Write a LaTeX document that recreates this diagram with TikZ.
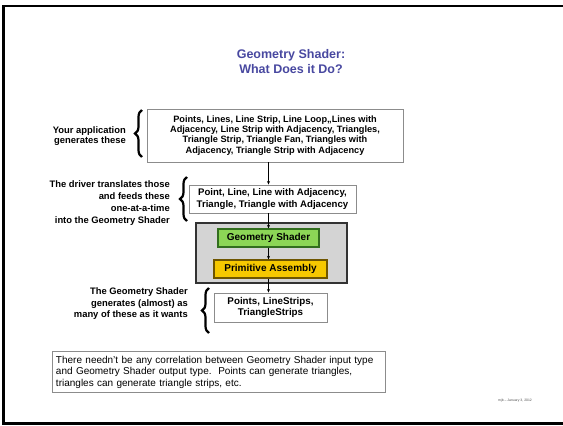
\documentclass[tikz,border=0pt]{standalone}
\usepackage{fontspec}
\setmainfont{Liberation Sans}
\usepackage{xcolor}
\usetikzlibrary{arrows.meta, positioning, calc, decorations.pathreplacing}
\definecolor{titleblue}{RGB}{72,72,160}
\definecolor{gsgreen}{RGB}{140,214,86}
\definecolor{gsborder}{RGB}{50,110,30}
\definecolor{pagold}{RGB}{246,200,0}
\definecolor{paborder}{RGB}{110,85,0}
\tikzset{
  prim/.style={rectangle, draw=black!45, fill=white, line width=0.9pt,
               align=center, font=\fontsize{9.2}{10.2}\selectfont\bfseries,
               inner sep=1pt},
  lbl/.style={align=right, anchor=east, inner sep=0pt,
              font=\fontsize{9.4}{11.5}\selectfont\bfseries},
  stage/.style={rectangle, line width=1.2pt, align=center, inner sep=0pt,
                font=\fontsize{10}{10}\selectfont\bfseries},
  arrow/.style={-{Stealth[length=3.5pt, width=3pt]}, line width=0.7pt},
  cbrace/.style={decorate, decoration={brace, amplitude=7pt},
                 line width=2.2pt},
}
\begin{document}
\begin{tikzpicture}[x=1pt, y=-1pt]
  \useasboundingbox (0,0) rectangle (563,426);
  % Frame
  \draw[line width=2.6pt] (3.5,6) rectangle (566,423.5);

  % Title
  \node[font=\fontsize{12.5}{15}\selectfont\bfseries, text=titleblue,
        align=center] (title) at (291,61.5)
       {Geometry Shader:\\What Does it Do?};

  % Primitive boxes
  \node[prim, minimum width=256pt, minimum height=53pt] (inprims) at (275,135.5)
       {Points, Lines, Line Strip, Line Loop,,Lines with\\
        Adjacency, Line Strip with Adjacency, Triangles,\\
        Triangle Strip, Triangle Fan, Triangles with\\
        Adjacency, Triangle Strip with Adjacency};
  \node[prim, minimum width=167pt, minimum height=28pt,
        font=\fontsize{9.6}{11.5}\selectfont\bfseries] (gsin) at (272.5,199)
       {Point, Line, Line with Adjacency,\\Triangle, Triangle with Adjacency};
  \node[rectangle, draw=black!80, fill=black!17, line width=1.6pt,
        minimum width=151pt, minimum height=60pt] (panel) at (271.5,253) {};
  \node[stage, draw=gsborder, fill=gsgreen, minimum width=101pt,
        minimum height=18pt] (gs) at (268.5,238) {Geometry Shader};
  \node[stage, draw=paborder, fill=pagold, minimum width=113pt,
        minimum height=18pt] (pa) at (270.5,269) {Primitive Assembly};
  \node[prim, minimum width=113pt, minimum height=29pt,
        font=\fontsize{9.8}{11.5}\selectfont\bfseries] (gsout) at (270.5,307.5)
       {Points, LineStrips,\\TriangleStrips};

  % Arrows
  \draw[arrow] (inprims.south -| gs.north) -- (gsin.north -| gs.north);
  \draw[arrow] (gsin.south -| gs.north) -- (gs.north);
  \draw[arrow] (gs.south) -- (pa.north -| gs.south);
  \draw[arrow] (pa.south -| gs.south) -- (gsout.north -| gs.south);

  % Side labels
  \node[lbl, font=\fontsize{9.4}{10.5}\selectfont\bfseries] (applbl)
       at (126,136) {Your application\\generates these};
  \node[lbl, font=\fontsize{9.4}{12}\selectfont\bfseries] (drvlbl) at (170,203)
       {The driver translates those\\and feeds these\\one-at-a-time\\
        into the Geometry Shader};
  \node[lbl] (outlbl) at (188,304)
       {The Geometry Shader\\generates (almost) as\\many of these as it wants};

  % Braces
  \draw[cbrace] (142,157) -- (142,110);
  \draw[cbrace] (187,221) -- (187,177);
  \draw[cbrace] (209,333) -- (209,288);

  % Note
  \node[rectangle, draw=black!45, line width=0.9pt, align=left,
        text width=325pt, minimum height=40pt, inner sep=4pt,
        font=\fontsize{10}{11.5}\selectfont] (note) at (218.5,372)
       {There needn't be any correlation between Geometry Shader input type\\
        and Geometry Shader output type.\ \ Points can generate triangles,\\
        triangles can generate triangle strips, etc.};

  % Footer
  \node[font=\fontsize{3.4}{4}\selectfont, text=black!70] (footer) at (515,401)
       {mjb -- January 3, 2012};
\end{tikzpicture}
\end{document}
